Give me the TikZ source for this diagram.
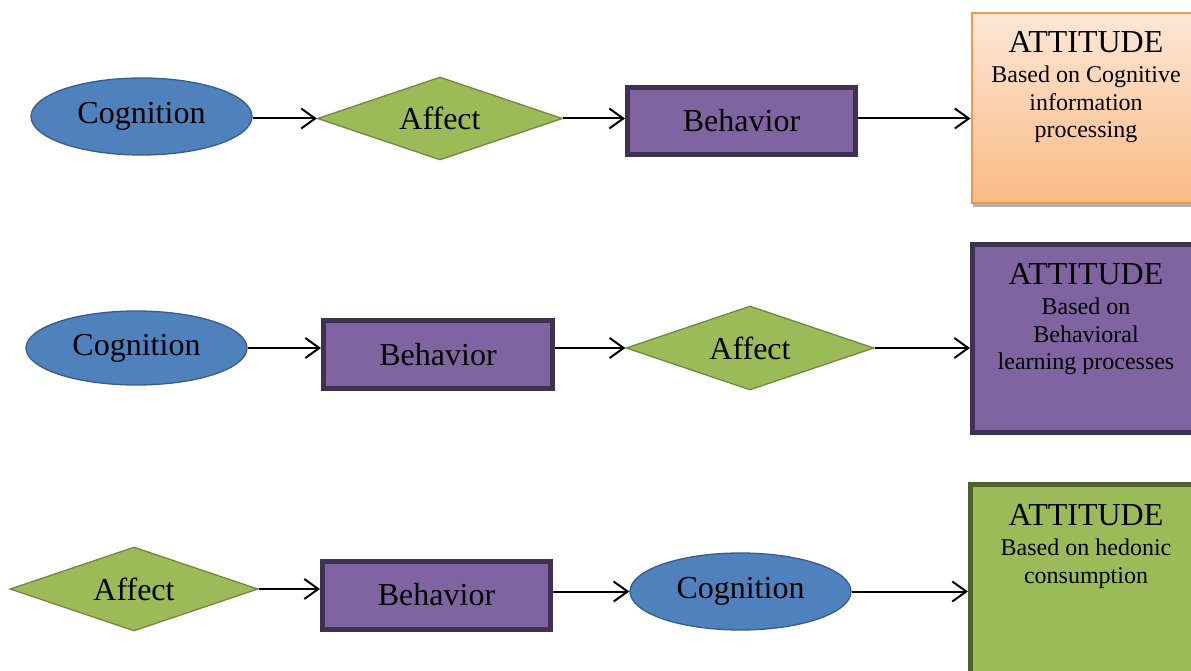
\documentclass[tikz,border=0pt]{standalone}
\usepackage{fontspec}
\setmainfont{Liberation Serif}
\usetikzlibrary{shapes.geometric,arrows.meta}
\definecolor{cogfill}{HTML}{4F81BD}
\definecolor{cogline}{HTML}{385D8A}
\definecolor{afffill}{HTML}{9BBB59}
\definecolor{affline}{HTML}{71893F}
\definecolor{behfill}{HTML}{8064A2}
\definecolor{behline}{HTML}{3F3151}
\definecolor{orline}{HTML}{F79646}
\definecolor{ortop}{RGB}{253,231,214}
\definecolor{orbot}{RGB}{250,186,132}
\definecolor{grline}{HTML}{4F6228}
\tikzset{
  big/.style={font=\fontsize{32}{36}\selectfont},
  small/.style={font=\fontsize{24}{27.5}\selectfont},
  cog/.style={ellipse, draw=cogline, fill=cogfill, line width=1.3pt, inner sep=0pt, big},
  aff/.style={diamond, aspect=3, draw=affline, fill=afffill, line width=1.3pt, inner sep=0pt, big},
  beh/.style={rectangle, draw=behline, fill=behfill, line width=5pt, inner sep=0pt, big},
  arr/.style={draw=black, line width=2pt, -{Straight Barb[length=14pt,width=20pt,line width=2pt]}},
  atttext/.style={inner sep=0pt, align=center},
}
\begin{document}
\begin{tikzpicture}[x=1pt,y=-1pt]
\useasboundingbox (0,0) rectangle (1191,671);
\clip (0,0) rectangle (1191,671);
% ---------- Row 1
\node[cog, minimum width=221pt, minimum height=77pt] (c1) at (141.5,116.5) {Cognition};
\node[aff, minimum width=245pt, minimum height=83pt] (a1) at (440,118.5) {Affect};
\node[beh, minimum width=228pt, minimum height=67pt] (b1) at (741.5,121) {Behavior};
\fill[black!30] (973,16) rectangle (1205,207);
\node[rectangle, draw=orline, line width=2pt, top color=ortop, bottom color=orbot,
      minimum width=232pt, minimum height=190pt, inner sep=0pt, anchor=north west] (t1) at (970.5,12.5) {};
\node[atttext, big, anchor=north] (t1a) at (1086,31) {ATTITUDE};
\node[atttext, small, anchor=north] (t1b) at (1086,66) {Based on Cognitive\\information\\processing};
\draw[arr] (c1.east |- a1.west) -- (a1.west);
\draw[arr] (a1.east) -- (b1.west |- a1.east);
\draw[arr] (b1.east |- a1.east) -- (t1.west |- a1.east);
% ---------- Row 2
\node[cog, minimum width=221pt, minimum height=74pt] (c2) at (136.5,348) {Cognition};
\node[beh, minimum width=229pt, minimum height=68pt] (b2) at (438,354.5) {Behavior};
\node[aff, minimum width=248pt, minimum height=84pt] (a2) at (750,348) {Affect};
\node[rectangle, draw=behline, fill=behfill, line width=5pt,
      minimum width=232pt, minimum height=188pt, inner sep=0pt, anchor=north west] (t2) at (970,242) {};
\node[atttext, big, anchor=north] (t2a) at (1086,263) {ATTITUDE};
\node[atttext, small, anchor=north] (t2b) at (1086,298) {Based on\\Behavioral\\learning processes};
\draw[arr] (c2.east) -- (b2.west |- c2.east);
\draw[arr] (b2.east |- a2.west) -- (a2.west);
\draw[arr] (a2.east) -- (t2.west |- a2.east);
% ---------- Row 3
\node[aff, minimum width=248pt, minimum height=84pt] (a3) at (134,589) {Affect};
\node[beh, minimum width=228pt, minimum height=68pt] (b3) at (436.5,595) {Behavior};
\node[cog, minimum width=221pt, minimum height=77pt] (c3) at (740.5,591.5) {Cognition};
\node[rectangle, draw=grline, line width=5pt, fill=afffill,
      minimum width=232pt, minimum height=200pt, inner sep=0pt, anchor=north west] (t3) at (968,482) {};
\node[atttext, big, anchor=north] (t3a) at (1086,504) {ATTITUDE};
\node[atttext, small, anchor=north] (t3b) at (1086,539) {Based on hedonic\\consumption};
\draw[arr] (a3.east) -- (b3.west |- a3.east);
\draw[arr] (b3.east |- c3.west) -- (c3.west);
\draw[arr] (c3.east) -- (t3.west |- c3.east);
\end{tikzpicture}
\end{document}
